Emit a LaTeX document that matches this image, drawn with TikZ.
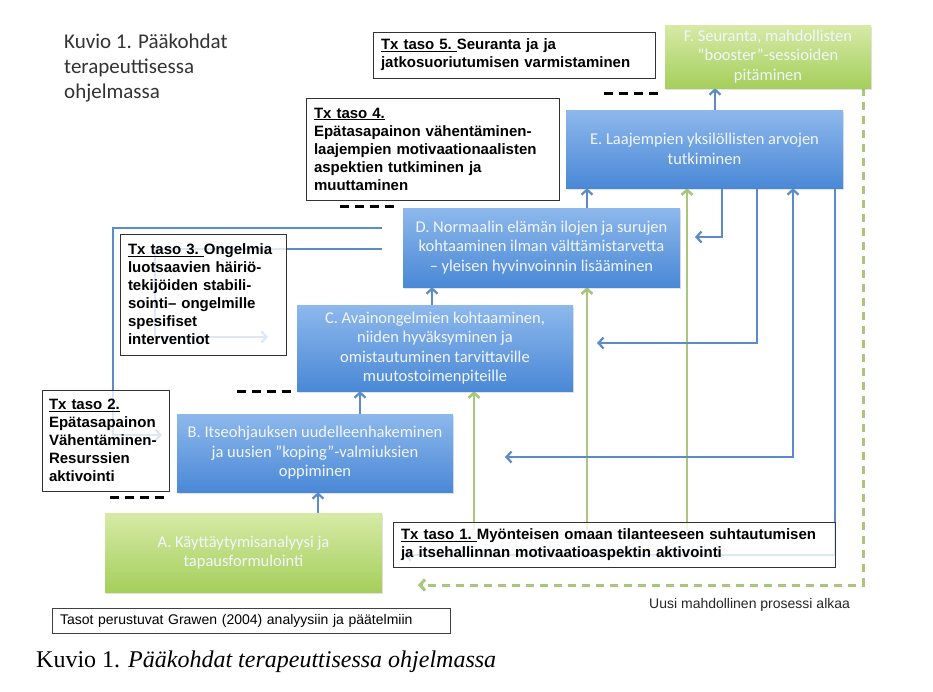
\documentclass[tikz,border=0pt]{standalone}
\usepackage{fontspec}
\setmainfont{Carlito}
\newfontfamily\arialf{Liberation Sans}
\newfontfamily\timesf{Liberation Serif}
\usetikzlibrary{arrows.meta,shadows}
\pgfdeclarelayer{bg}
\pgfsetlayers{bg,main}
\definecolor{bluetop}{HTML}{8DB8EC}
\definecolor{bluebot}{HTML}{4A88D6}
\definecolor{greentop}{HTML}{D6EAA6}
\definecolor{greenbot}{HTML}{A5CF5C}
\definecolor{linkblue}{HTML}{5B8BC9}
\definecolor{linkgreen}{HTML}{A9C67C}
\definecolor{boxtext}{HTML}{F2F6FC}
\definecolor{titlegray}{HTML}{333333}
\begin{document}
\begin{tikzpicture}[x=1pt,y=-1pt,
  colbox/.style={rectangle, draw=none, text=boxtext, align=center,
    font=\fontsize{16.5}{19.5}\selectfont, inner sep=0pt,
    drop shadow={opacity=0.22,shadow xshift=1pt,shadow yshift=-1.5pt}},
  bluebox/.style={colbox, top color=bluetop, bottom color=bluebot},
  greenbox/.style={colbox, top color=greentop, bottom color=greenbot},
  txbox/.style={rectangle, draw=black!80, line width=1pt, fill=white,
    fill opacity=0.8, text opacity=1, align=left,
    font=\arialf\bfseries\fontsize{15}{18}\selectfont, inner xsep=8pt, inner ysep=0pt},
  notebox/.style={rectangle, draw=black!75, line width=1pt, fill=white, align=left,
    font=\arialf\fontsize{14}{16}\selectfont, inner xsep=8pt, inner ysep=0pt},
  bluearr/.style={draw=linkblue, line width=2.2pt, -{Straight Barb[length=5pt,width=11pt]}},
  bluebiarr/.style={draw=linkblue, line width=2.2pt,
    {Straight Barb[length=5pt,width=11pt]}-{Straight Barb[length=5pt,width=11pt]}},
  greenarr/.style={draw=linkgreen, line width=2.6pt, -{Straight Barb[length=5pt,width=11pt]}},
  greendash/.style={draw=linkgreen, line width=3pt, dash pattern=on 8pt off 6pt,
    -{Straight Barb[length=5pt,width=11pt]}},
  blackdash/.style={draw=black, line width=3pt, dash pattern=on 9pt off 6pt},
]
\useasboundingbox (0,0) rectangle (933,691);

% title
\node[font=\fontsize{21}{25}\selectfont, text=titlegray, align=left, anchor=north west, inner sep=0pt]
  (title) at (64,34) {Kuvio 1. Pääkohdat\\terapeuttisessa\\ohjelmassa};

% coloured boxes
\node[greenbox, minimum width=206pt, minimum height=63pt] (F) at (768,56.5)
  {F. Seuranta, mahdollisten\\”booster”-sessioiden\\pitäminen};
\node[bluebox, minimum width=277pt, minimum height=78pt] (E) at (704.5,149)
  {E. Laajempien yksilöllisten arvojen\\tutkiminen};
\node[bluebox, minimum width=277pt, minimum height=79pt] (D) at (541.5,247.5)
  {D. Normaalin elämän ilojen ja surujen\\kohtaaminen ilman välttämistarvetta\\– yleisen hyvinvoinnin lisääminen};
\node[bluebox, minimum width=276pt, minimum height=86pt] (C) at (435,348)
  {C. Avainongelmien kohtaaminen,\\niiden hyväksyminen ja\\omistautuminen tarvittaville\\muutostoimenpiteille};
\node[bluebox, minimum width=276pt, minimum height=78pt] (B) at (315,453)
  {B. Itseohjauksen uudelleenhakeminen\\ja uusien ”koping”-valmiuksien\\oppiminen};
\node[greenbox, minimum width=277pt, minimum height=79pt] (A) at (243.5,552.5)
  {A. Käyttäytymisanalyysi ja\\tapausformulointi};

% Tx boxes
\node[txbox, text width=266pt, minimum height=46pt] (tx5) at (514,55)
  {\underline{Tx taso 5.\ }Seuranta ja ja\\jatkosuoriutumisen varmistaminen};
\node[txbox, text width=237pt, minimum height=102pt] (tx4) at (432.5,149)
  {\underline{Tx taso 4.}\\Epätasapainon vähentäminen-\\laajempien motivaationaalisten\\aspektien tutkiminen ja\\muuttaminen};
\node[txbox, text width=150pt, minimum height=121pt] (tx3) at (203,294.5)
  {\underline{Tx taso 3.\ }Ongelmia\\luotsaavien häiriö-\\tekijöiden stabili-\\sointi– ongelmille\\spesifiset\\interventiot};
\node[txbox, inner xsep=7pt, text width=113pt, minimum height=101pt] (tx2) at (105.5,440.5)
  {\underline{Tx taso 2.}\\Epätasapainon\\Vähentäminen-\\Resurssien\\aktivointi};
\node[txbox, text width=426pt, minimum height=45pt] (tx1) at (614,544.5)
  {\underline{Tx taso 1.\ }Myönteisen omaan tilanteeseen suhtautumisen\\ja itsehallinnan motivaatioaspektin aktivointi};

\node[notebox, text width=382pt, minimum height=25pt] (note) at (251,620.5)
  {Tasot perustuvat Grawen (2004) analyysiin ja päätelmiin};
\node[font=\arialf\fontsize{14}{16}\selectfont, text=black!85, anchor=base west, inner sep=0pt]
  (newproc) at (649,608) {Uusi mahdollinen prosessi alkaa};
\node[font=\timesf\fontsize{24}{28}\selectfont, anchor=base west, inner sep=0pt]
  (caption) at (36,667) {Kuvio 1. \textit{Pääkohdat terapeuttisessa ohjelmassa}};

\begin{pgfonlayer}{bg}
\fill[white] (0,0) rectangle (933,691);
% upward arrows between levels
\draw[bluearr] (A.north -| 318,0) -- (B.south -| 318,0);
\draw[bluearr] (B.north -| 360,0) -- (C.south -| 360,0);
\draw[bluearr] (C.north -| 432,0) -- (D.south -| 432,0);
\draw[bluearr] (D.north -| 587,0) -- (E.south -| 587,0);
\draw[bluearr] (E.north -| 715,0) -- (F.south -| 715,0);
% green arrows from Tx taso 1
\draw[greenarr] (474,530) -- (C.south -| 474,0);
\draw[greenarr] (587,530) -- (D.south -| 587,0);
\draw[greenarr] (687,530) -- (E.south -| 687,0);
% feedback arrows from E
\draw[bluearr] (E.south -| 722,0) |- (695,237);
\draw[bluearr] (E.south -| 757,0) |- (597,343);
\draw[bluebiarr] (505,457) -| (E.south -| 793,0);
\draw[bluearr] (E.south -| 835,0) |- (404,555);
% arrows from D to the left
\draw[bluearr] (382,228) -| (113,435) -- (162,435);
\draw[bluearr] (382,249) -| (155,337) -- (268,337);
% new process
\draw[greendash] (F.south -| 863,0) |- (418,585);
% black dashed separators
\draw[blackdash] (604,93) -- (663,93);
\draw[blackdash] (340,206) -- (398,206);
\draw[blackdash] (237,391) -- (293,391);
\draw[blackdash] (110,497) -- (167,497);
\end{pgfonlayer}
\end{tikzpicture}
\end{document}
